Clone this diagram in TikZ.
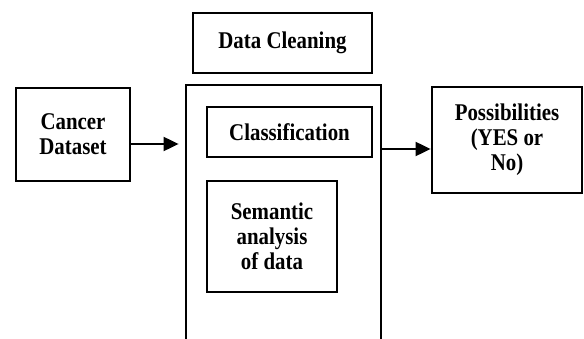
\documentclass[tikz,border=0pt]{standalone}
\usepackage{fontspec}
\setmainfont{Liberation Serif}[FakeStretch=0.87]
\usepackage{tikz}
\usetikzlibrary{positioning,arrows.meta}

\begin{document}
\begin{tikzpicture}[
    x=1pt, y=1pt,
    font=\fontsize{24}{25}\selectfont\bfseries,
    blk/.style  = {draw=black, line width=2.8pt, align=center, inner sep=0pt},
    arr/.style  = {-{Triangle[length=15pt, width=14pt]}, line width=2pt},
]
\clip (0,0) rectangle (584,338);

%======== stages ========
\node[blk, minimum width=114pt, minimum height=93pt] (cancer) at (73,203.5)
    {Cancer\\Dataset};
\node[blk, minimum width=179pt, minimum height=60pt] (clean) at (282.5,295)
    {Data Cleaning};
\node[blk, minimum width=195pt, minimum height=275pt] (pipe) at (283.5,115.5) {};
\node[blk, minimum width=165pt, minimum height=50pt] (classif) at (289.5,206)
    {Classification};
\node[blk, minimum width=130pt, minimum height=111pt] (sem) at (272,101.5)
    {Semantic\\analysis\\of data};
\node[blk, minimum width=150pt, minimum height=106pt] (poss) at (507,198)
    {Possibilities\\(YES or\\No)};

%======== arrows ========
\coordinate (in1) at ([yshift=-9.5pt]cancer.east);
\draw[arr, shorten >=6pt] (in1) -- (in1 -| pipe.west);
\coordinate (out1) at ([yshift=-9pt]poss.west);
\draw[arr] (out1 -| pipe.east) -- (out1);

\end{tikzpicture}
\end{document}
